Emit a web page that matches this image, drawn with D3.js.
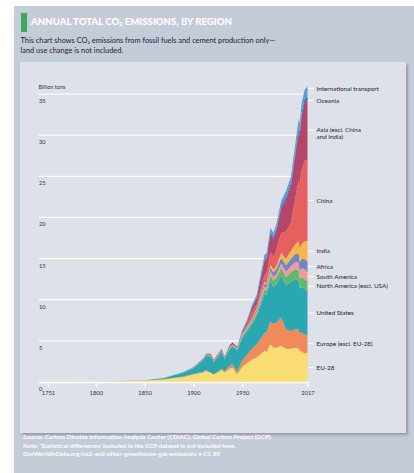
<!DOCTYPE html>
<html>
<head>
<meta charset="utf-8">
<script src="https://cdn.jsdelivr.net/npm/d3@7"></script>
<style>
  html, body { margin: 0; padding: 0; background: #ffffff; }
  svg { display: block; }
  text { font-family: Lato, "Open Sans", "DejaVu Sans", sans-serif; }
</style>
</head>
<body>
<svg id="chart" width="414" height="473"></svg>
<script>
// ---------- DATA (billion tonnes CO2) ----------
const years = [1751, 1800, 1850, 1870, 1890, 1900, 1910, 1913, 1918, 1921, 1929, 1932, 1937, 1940, 1945, 1950, 1955, 1960, 1965, 1970, 1973, 1975, 1979, 1982, 1985, 1990, 1995, 2000, 2005, 2008, 2009, 2011, 2014, 2017];

const eu28 =        [0.009, 0.028, 0.18, 0.33, 0.62, 0.9, 1.15, 1.35, 1.1, 0.9, 1.45, 1.15, 1.6, 1.75, 0.9, 1.85, 2.3, 2.7, 3.0, 3.5, 3.8, 3.65, 4.6, 4.15, 4.15, 4.4, 4.05, 4.05, 4.15, 4.05, 3.75, 3.75, 3.45, 3.54];
const europeOther = [0, 0.001, 0.003, 0.01, 0.04, 0.08, 0.1, 0.12, 0.03, 0.04, 0.12, 0.2, 0.35, 0.45, 0.35, 0.8, 1.05, 1.3, 1.6, 1.95, 2.2, 2.4, 2.75, 2.9, 3.05, 3.45, 2.35, 2.15, 2.25, 2.35, 2.15, 2.3, 2.3, 2.2];
const usa =         [0, 0.0025, 0.02, 0.15, 0.5, 0.7, 1.4, 1.7, 2.0, 1.5, 2.1, 1.4, 2.0, 2.1, 2.6, 2.7, 2.85, 3.0, 3.45, 4.3, 4.75, 4.45, 4.95, 4.5, 4.65, 5.1, 5.4, 6.0, 6.13, 5.9, 5.48, 5.5, 5.55, 5.27];
const northAmOther =[0, 0, 0.001, 0.005, 0.02, 0.03, 0.06, 0.08, 0.09, 0.08, 0.1, 0.07, 0.09, 0.1, 0.12, 0.17, 0.22, 0.26, 0.33, 0.45, 0.53, 0.57, 0.7, 0.78, 0.8, 0.9, 0.95, 1.1, 1.2, 1.22, 1.16, 1.2, 1.22, 1.24];
const southAm =     [0, 0, 0, 0.001, 0.005, 0.01, 0.02, 0.025, 0.02, 0.025, 0.04, 0.03, 0.045, 0.05, 0.06, 0.1, 0.14, 0.18, 0.22, 0.28, 0.33, 0.36, 0.45, 0.45, 0.45, 0.55, 0.65, 0.8, 0.88, 0.99, 0.97, 1.07, 1.17, 1.13];
const africa =      [0, 0, 0, 0.001, 0.005, 0.01, 0.02, 0.025, 0.025, 0.025, 0.035, 0.03, 0.045, 0.05, 0.06, 0.1, 0.13, 0.15, 0.2, 0.3, 0.35, 0.38, 0.5, 0.55, 0.6, 0.7, 0.78, 0.88, 1.0, 1.1, 1.1, 1.15, 1.25, 1.29];
const india =       [0, 0, 0, 0.001, 0.005, 0.01, 0.02, 0.025, 0.025, 0.025, 0.03, 0.03, 0.035, 0.04, 0.045, 0.06, 0.07, 0.11, 0.15, 0.18, 0.2, 0.23, 0.28, 0.33, 0.4, 0.58, 0.8, 0.98, 1.2, 1.5, 1.63, 1.8, 2.18, 2.45];
const china =       [0, 0, 0, 0, 0, 0.001, 0.005, 0.01, 0.015, 0.015, 0.025, 0.02, 0.04, 0.05, 0.04, 0.08, 0.2, 0.78, 0.48, 0.77, 0.9, 1.15, 1.5, 1.55, 1.93, 2.42, 3.32, 3.4, 5.9, 7.4, 7.7, 9.0, 9.8, 9.84];
const asiaOther =   [0, 0, 0, 0.001, 0.005, 0.03, 0.06, 0.07, 0.09, 0.08, 0.12, 0.11, 0.18, 0.22, 0.08, 0.2, 0.32, 0.5, 0.8, 1.35, 1.7, 1.75, 2.2, 2.2, 2.35, 3.0, 3.9, 4.4, 5.3, 5.9, 6.0, 6.5, 7.0, 7.3];
const oceania =     [0, 0, 0, 0.002, 0.007, 0.012, 0.02, 0.025, 0.025, 0.025, 0.03, 0.025, 0.035, 0.035, 0.04, 0.05, 0.06, 0.09, 0.11, 0.15, 0.18, 0.2, 0.22, 0.24, 0.25, 0.3, 0.32, 0.38, 0.42, 0.44, 0.45, 0.44, 0.44, 0.45];
const intlTransport=[0, 0, 0, 0, 0, 0, 0, 0, 0, 0, 0, 0, 0, 0, 0, 0.18, 0.2, 0.25, 0.3, 0.45, 0.55, 0.5, 0.58, 0.5, 0.5, 0.6, 0.68, 0.8, 0.98, 1.1, 1.05, 1.15, 1.12, 1.2];

const seriesNames = ["EU-28", "Europe (excl. EU-28)", "United States", "North America (excl. USA)", "South America", "Africa", "India", "China", "Asia (excl. China and India)", "Oceania", "International transport"];
const seriesValues = [eu28, europeOther, usa, northAmOther, southAm, africa, india, china, asiaOther, oceania, intlTransport];
const seriesColors = ["#f9dd72", "#ef8b5b", "#2aa7b0", "#63b86b", "#f09b97", "#7186c4", "#f7b64d", "#e6615d", "#b4456b", "#2f70b6", "#5b9dd3"];

const yTicks = [0, 5, 10, 15, 20, 25, 30, 35];
const xTickYears = [1751, 1800, 1850, 1900, 1950, 2017];

const titleText = "ANNUAL TOTAL CO\u2082 EMISSIONS, BY REGION";
const subtitleLines = ["This chart shows CO\u2082 emissions from fossil fuels and cement production only\u2014", "land use change is not included."];
const yAxisTitle = "Billion tons";
const footerLines = [
  "Source: Carbon Dioxide Information Analysis Center (CDIAC); Global Carbon Project (GCP).",
  "Note: 'Statistical differences' included in the GCP dataset is not included here.",
  "OurWorldinData.org/co2-and-other-greenhouse-gas-emissions \u2022 CC BY"
];

// ---------- BUILD ----------
const table = years.map((yr, i) => {
  const row = { year: yr };
  seriesNames.forEach((n, k) => row[n] = seriesValues[k][i]);
  return row;
});

const svg = d3.select("#chart");
const defs = svg.append("defs");
const f = defs.append("filter").attr("id", "shadow").attr("x", "-5%").attr("y", "-5%").attr("width", "112%").attr("height", "112%");
f.append("feDropShadow").attr("dx", 2).attr("dy", 2).attr("stdDeviation", 1.8).attr("flood-color", "#6f7788").attr("flood-opacity", 0.6);

// outer panel
svg.append("rect").attr("x", 14).attr("y", 6).attr("width", 400).attr("height", 467).attr("fill", "#c4cbd9");

// green accent
svg.append("rect").attr("x", 21).attr("y", 13).attr("width", 6).attr("height", 19).attr("fill", "#3ea85a");

svg.append("text").attr("x", 31).attr("y", 25)
  .attr("font-size", 9.6).attr("font-weight", 900).attr("fill", "#ffffff")
  .attr("textLength", 201).attr("lengthAdjust", "spacingAndGlyphs")
  .text(titleText);

subtitleLines.forEach((t, i) => {
  svg.append("text").attr("x", 20.5).attr("y", 42.5 + i * 10)
    .attr("font-size", 7.4).attr("fill", "#1f1f1f").text(t);
});

// inner panel
svg.append("rect").attr("x", 20).attr("y", 62).attr("width", 386).attr("height", 371)
  .attr("fill", "#dde1ea").attr("filter", "url(#shadow)");

// scales
const x = d3.scaleLinear().domain([1751, 2017]).range([48, 307.5]);
const y = d3.scaleLinear().domain([0, 35]).range([382, 94]);

// gridlines
const grid = svg.append("g");
yTicks.filter(v => v > 0).forEach(v => {
  grid.append("line").attr("x1", 39).attr("x2", 307.5).attr("y1", y(v)).attr("y2", y(v))
    .attr("stroke", "#ffffff").attr("stroke-width", 1.2);
});

// y tick labels
yTicks.forEach(v => {
  svg.append("text").attr("x", 39).attr("y", y(v) + 9)
    .attr("font-size", 5.8).attr("fill", "#333").text(v);
});
svg.append("text").attr("x", 38.5).attr("y", 89).attr("font-size", 5.5).attr("fill", "#333").text(yAxisTitle);

// stacked areas
const stack = d3.stack().keys(seriesNames);
const layers = stack(table);
const area = d3.area()
  .x(d => x(d.data.year))
  .y0(d => y(d[0]))
  .y1(d => y(d[1]));
svg.append("g").selectAll("path").data(layers).join("path")
  .attr("d", area)
  .attr("fill", (d, i) => seriesColors[i]);

// x axis
const xAxis = d3.axisBottom(x).tickValues(xTickYears).tickFormat(d3.format("d")).tickSize(5).tickPadding(4);
const gx = svg.append("g").attr("transform", `translate(0,${y(0)})`).call(xAxis);
gx.select(".domain").attr("stroke", "#ffffff").attr("stroke-width", 1.3).attr("d", `M39,0.5H307.5`);
gx.selectAll(".tick line").attr("stroke", "#ffffff").attr("stroke-width", 1.2);
gx.selectAll(".tick text").attr("fill", "#333").attr("font-size", 5.8).attr("font-family", "Lato, 'Open Sans', sans-serif");

// right labels
const last = layers.map(l => l[l.length - 1]);
const centers = last.map(d => (y(d[0]) + y(d[1])) / 2);
const labelY = centers.slice();
for (let i = labelY.length - 2; i >= 0; i--) {
  if (labelY[i] < labelY[i + 1] + 9) labelY[i] = labelY[i + 1] + 9;
}
labelY[labelY.length - 1] = Math.min(labelY[labelY.length - 1], centers[labelY.length - 1] - 3);
labelY[labelY.length - 2] = Math.max(labelY[labelY.length - 2], labelY[labelY.length - 1] + 12);

const lab = svg.append("g");
seriesNames.forEach((n, i) => {
  const ly = labelY[i];
  lab.append("line").attr("x1", 308.5).attr("x2", 314).attr("y1", ly).attr("y2", ly)
    .attr("stroke", "#ffffff").attr("stroke-width", 1);
  const t = lab.append("text").attr("x", 316.5).attr("y", ly + 2.1)
    .attr("font-size", 6.3).attr("fill", "#1f1f1f");
  if (n === "Asia (excl. China and India)") {
    t.append("tspan").attr("x", 316.5).attr("dy", 0).text("Asia (excl. China");
    t.append("tspan").attr("x", 316.5).attr("dy", 6.8).text("and India)");
  } else {
    t.text(n);
  }
});

// footer
footerLines.forEach((t, i) => {
  svg.append("text").attr("x", 23).attr("y", 439 + i * 8.6)
    .attr("font-size", 6.2).attr("font-weight", 700).attr("fill", "#ffffff").text(t);
});
</script>
</body>
</html>
